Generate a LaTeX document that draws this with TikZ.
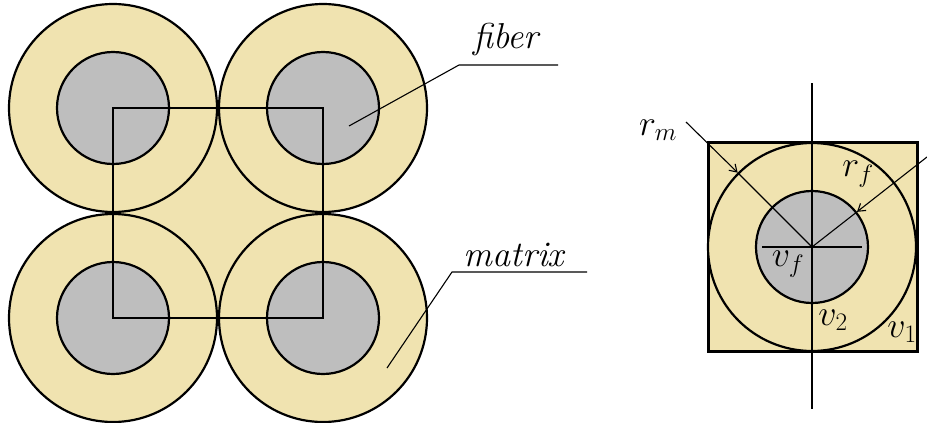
\documentclass[tikz,border=0pt]{standalone}
\usepackage{fix-cm}
\usepackage{fontspec}
\usetikzlibrary{arrows.meta}
\definecolor{matrixcol}{RGB}{240,227,176}
\definecolor{fibercol}{RGB}{190,190,190}
\begin{document}
\begin{tikzpicture}[x=1pt, y=-1pt, >={Straight Barb[length=7pt, width=9pt]}, line width=1.1pt,
  txt/.style={font=\fontsize{36}{42}\selectfont\itshape, inner sep=1pt},
  outer/.style={circle, draw, line width=2.2pt, fill=matrixcol, minimum size=208pt, inner sep=0pt},
  inner/.style={circle, draw, line width=2.2pt, fill=fibercol, minimum size=112pt, inner sep=0pt}]
  \useasboundingbox (0,0) rectangle (927,423);
  % square packing of four fibres
  \fill[matrixcol] (113,108) rectangle (323,318);
  \foreach \cx/\cy/\n in {113/108/a, 323/108/b, 113/318/c, 323/318/d} {
    \node[outer] (o\n) at (\cx,\cy) {};
    \node[inner] (i\n) at (\cx,\cy) {};
  }
  \draw[line width=1.4pt] (ia.center) rectangle (id.center);

  % leaders
  \coordinate (fibtip) at (349,126);
  \coordinate (fibknee) at (459,65);
  \coordinate (fibend) at (558,65);
  \draw (fibtip) -- (fibknee) -- (fibend);
  \node[txt, anchor=base] (fib) at (506,48) {fiber};
  \coordinate (mattip) at (387,368);
  \coordinate (matknee) at (452,272);
  \coordinate (matend) at (587,272);
  \draw (mattip) -- (matknee) -- (matend);
  \node[txt, anchor=base] (mat) at (514,266) {matrix};

  % unit cell
  \node[draw, line width=2.2pt, fill=matrixcol, minimum size=209pt, inner sep=0pt] (cell) at (813,247) {};
  \node[outer] (om) at (812,247) {};
  \node[inner] (if) at (812,247) {};
  \coordinate (axtop) at (812,83);
  \coordinate (axbot) at (812,409);
  \draw (axtop) -- (axbot);
  \draw ([xshift=-50pt]if.center) -- ([xshift=50pt]if.center);

  \node[txt] (rm) at (658,130) {$r_m$};
  \coordinate (rmstart) at (686,122);
  \draw[->] (rmstart) -- (om.135);
  \draw (om.135) -- (om.center);
  \node[txt] (rf) at (858,174) {$r_f$};
  \coordinate (rfstart) at (927,157);
  \draw[->] (rfstart) -- (if.38);
  \draw (if.38) -- (if.center);

  \node[txt] (vf) at (788,264) {$v_f$};
  \node[txt] (v2) at (833,320) {$v_2$};
  \node[txt] (v1) at (902,332) {$v_1$};
\end{tikzpicture}
\end{document}
